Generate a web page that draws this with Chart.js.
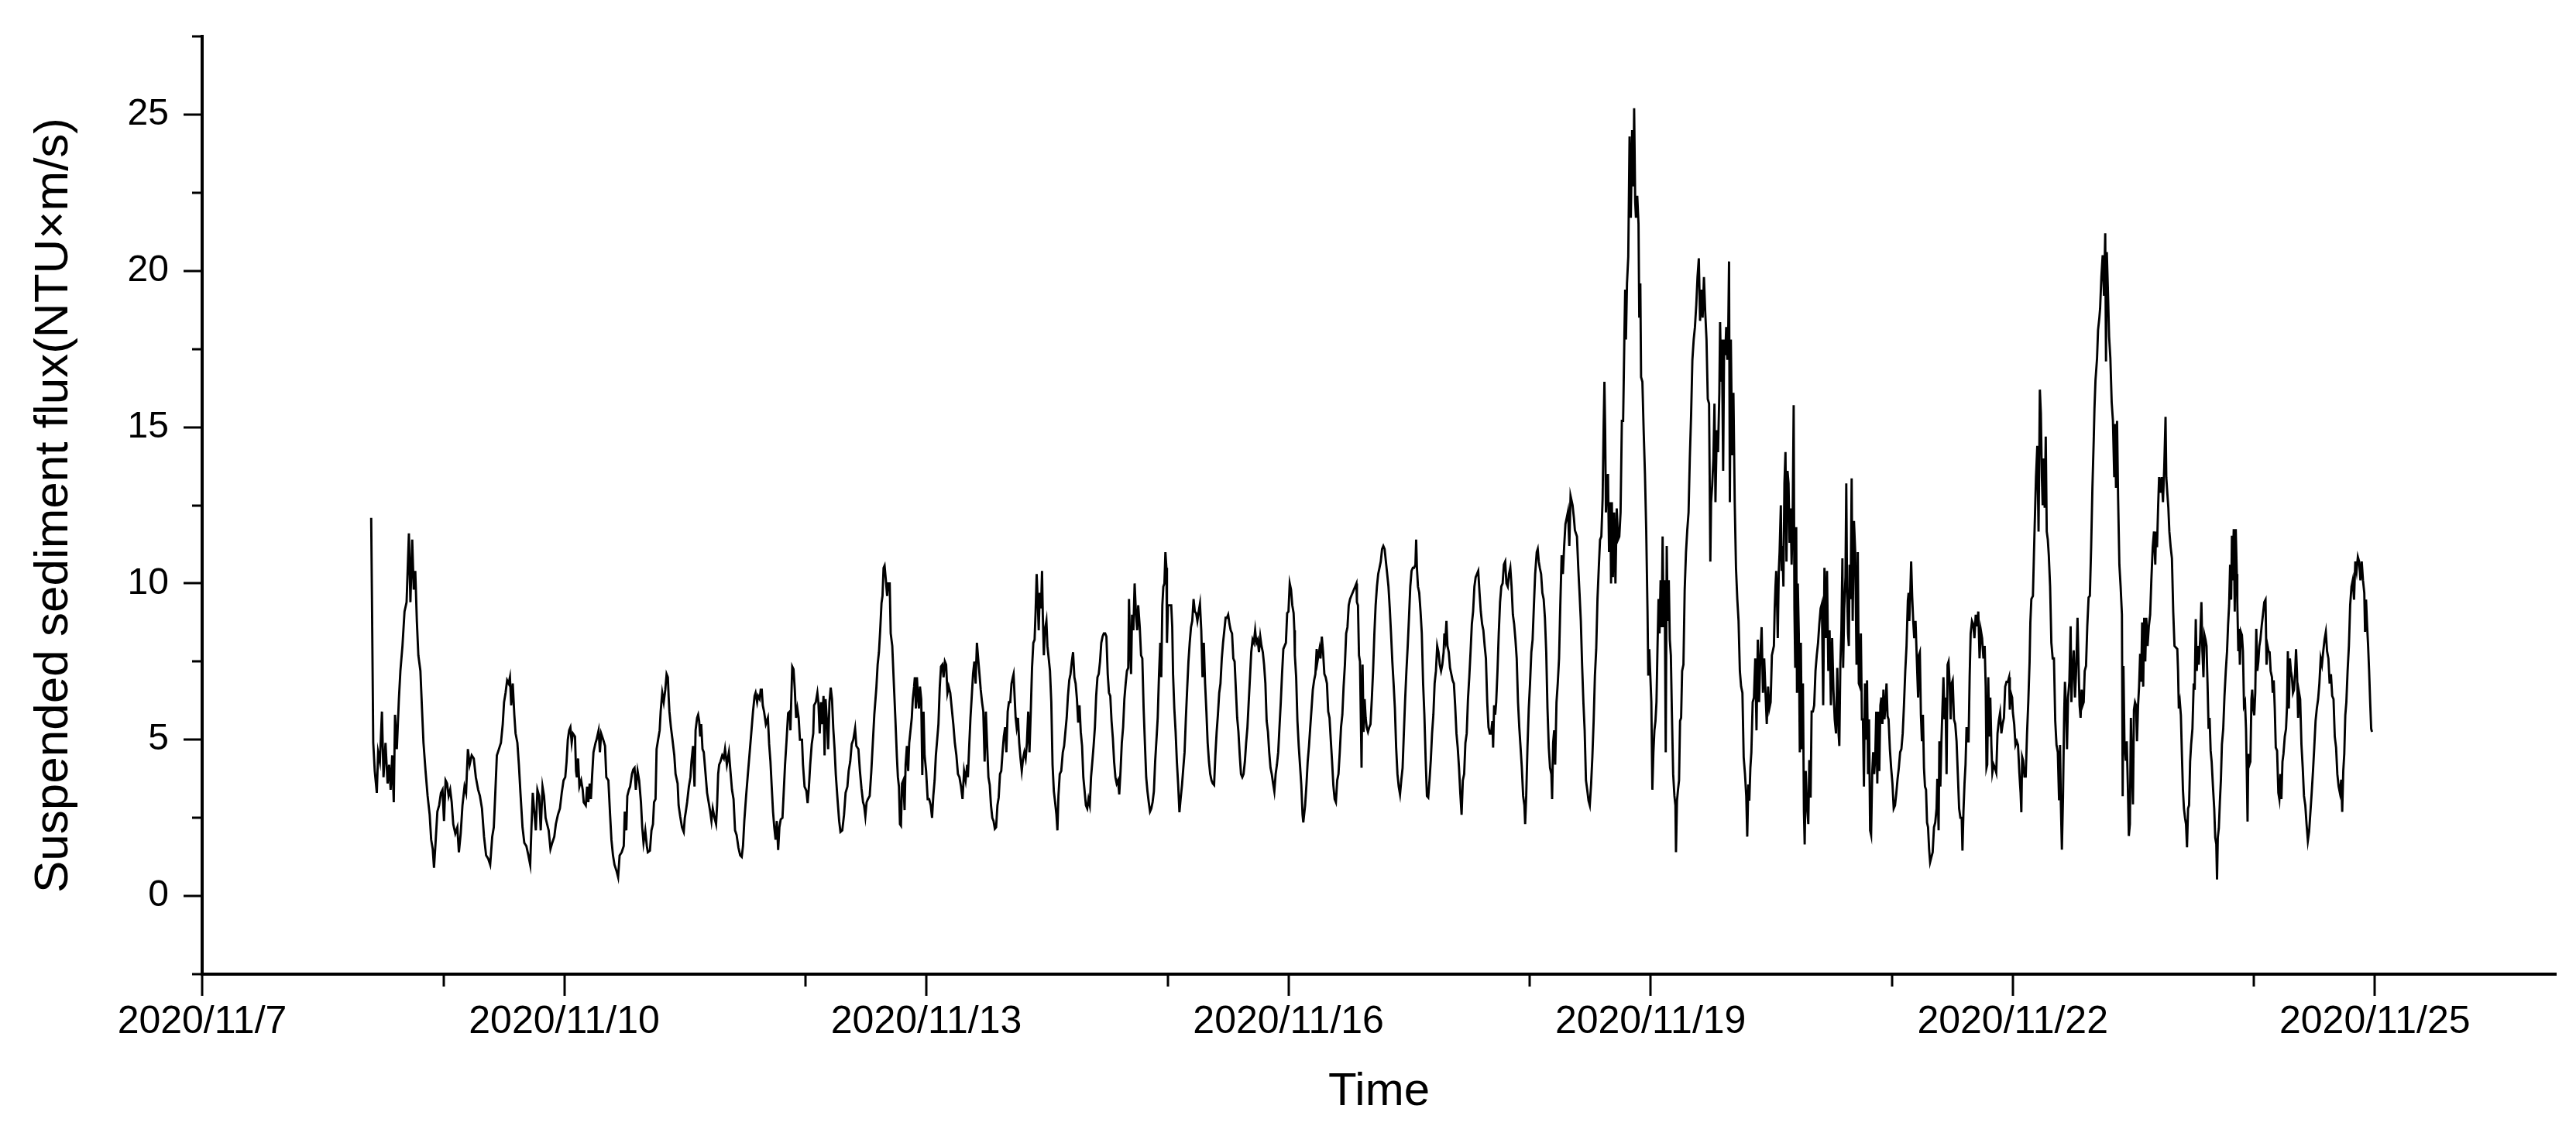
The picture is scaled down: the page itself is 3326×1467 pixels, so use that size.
<!DOCTYPE html>
<html>
<head>
<meta charset="utf-8">
<title>Suspended sediment flux</title>
<script src="https://cdn.jsdelivr.net/npm/chart.js@4.4.1/dist/chart.umd.min.js"></script>
<style>
  html, body { margin: 0; padding: 0; background: #fff; }
  #wrap { width: 3326px; height: 1467px; }
</style>
</head>
<body>
<div id="wrap"><canvas id="fluxChart" width="3326" height="1467"></canvas></div>
<script>
// time of each sample, hours after 2020/11/7 00:00
const hours = [
  // 11/8 - 11/10
  33.61, 33.76, 34.02, 34.32, 34.73, 34.99, 35.34, 35.75, 36.06, 36.46, 36.87, 37.18, 37.48, 37.79, 38.10, 38.35, 38.71, 39.12, 39.42, 39.83,
  40.24, 40.65, 41.11, 41.41, 41.77, 42.07, 42.38, 42.69, 42.99, 43.40, 43.71, 44.01, 44.42, 44.83, 45.24, 45.54, 45.85, 46.10, 46.41, 46.77,
  47.12, 47.48, 47.79, 48.09, 48.40, 48.70, 49.01, 49.32, 49.62, 49.93, 50.34, 50.74, 51.05, 51.41, 51.76, 52.17, 52.48, 52.84, 53.19, 53.60,
  54.01, 54.42, 54.88, 55.23, 55.64, 56.05, 56.46, 56.86, 57.27, 57.68, 57.99, 58.29, 58.60, 59.01, 59.41, 59.77, 60.03, 60.33, 60.64, 60.94,
  61.20, 61.45, 61.76, 62.07, 62.32, 62.68, 62.98, 63.29, 63.70, 64.06, 64.46, 64.87, 65.23, 65.48, 65.74, 66.04, 66.35, 66.66, 67.01, 67.32,
  67.68, 67.98, 68.29, 68.59, 68.90, 69.26, 69.61, 70.02, 70.33, 70.74, 71.14, 71.50, 71.86,
  // 11/10 - 11/11
  72.20, 72.46, 72.71, 72.97, 73.22, 73.48, 73.73, 74.14, 74.34, 74.50, 74.75, 75.01, 75.36, 75.67, 75.87, 76.28, 76.54, 76.79, 77.05, 77.30,
  77.56, 77.81, 78.22, 78.42, 78.83, 79.09, 79.34, 79.75, 80.11, 80.36, 80.77, 81.13, 81.38, 81.69, 81.99, 82.40, 82.71, 83.01, 83.42, 83.83,
  84.03, 84.34, 84.54, 84.85, 85.10, 85.46, 85.72, 85.97, 86.23, 86.58, 86.89, 87.25, 87.50, 87.76, 88.11, 88.42, 88.62, 89.03, 89.34, 89.64,
  89.85, 90.15, 90.36, 90.66, 90.97, 91.17, 91.48, 91.78, 92.09, 92.35, 92.60, 92.75, 92.91, 93.21, 93.52, 93.88, 94.13, 94.54, 94.74, 95.05,
  95.41, 95.76, 95.97, 96.17, 96.43, 96.78, 97.09, 97.29, 97.60, 97.90, 98.11, 98.41, 98.62, 98.82, 99.03, 99.23, 99.49, 99.74, 100.15, 100.40,
  100.66, 101.02, 101.27, 101.53, 101.88, 102.19, 102.39, 102.60, 102.80, 103.06, 103.41, 103.72, 103.97, 104.33, 104.74, 105.04, 105.35, 105.66, 105.96, 106.27,
  106.63, 106.98, 107.29, 107.54, 107.80, 108.16, 108.51, 108.82, 109.18, 109.53, 109.84, 110.04, 110.35, 110.55, 110.86, 111.06, 111.27, 111.47, 111.73, 112.08,
  // 11/11 - 11/13
  112.49, 112.74, 113.00, 113.25, 113.51, 113.76, 114.02, 114.27, 114.53, 114.78, 115.04, 115.39, 115.60, 115.90, 116.21, 116.51, 116.82, 116.97, 117.18, 117.33,
  117.59, 117.84, 118.10, 118.35, 118.61, 118.86, 119.27, 119.47, 119.78, 120.14, 120.39, 120.65, 120.90, 121.21, 121.51, 121.67, 122.02, 122.33, 122.53, 122.79,
  123.04, 123.25, 123.55, 123.76, 123.96, 124.27, 124.47, 124.73, 124.98, 125.24, 125.49, 125.75, 126.00, 126.36, 126.66, 126.92, 127.28, 127.63, 127.94, 128.30,
  128.55, 128.86, 129.16, 129.47, 129.83, 130.08, 130.49, 130.79, 131.10, 131.41, 131.61, 131.87, 132.12, 132.38, 132.73, 133.04, 133.34, 133.65, 134.06, 134.31,
  134.57, 134.82, 135.08, 135.28, 135.49, 135.69, 135.95, 136.20, 136.40, 136.71, 136.91, 137.22, 137.48, 137.83, 138.14, 138.34, 138.55, 138.75, 138.95, 139.16,
  139.41, 139.67, 139.87, 140.13, 140.38, 140.59, 140.89, 141.10, 141.30, 141.56, 141.71, 141.91, 142.12, 142.32, 142.52, 142.73, 142.98, 143.19, 143.44, 143.65,
  143.95, 144.26, 144.56, 144.87, 145.13, 145.38, 145.64, 145.89, 146.15, 146.40, 146.66, 146.91, 147.17, 147.42, 147.68, 147.93, 148.19, 148.44, 148.75, 149.05,
  149.36, 149.66, 149.97, 150.28, 150.58, 150.89, 151.19, 151.50, 151.81, 152.11,
  // 11/13 - 11/15
  152.26, 152.52, 152.77, 153.03, 153.28, 153.54, 153.79, 154.05, 154.30, 154.56, 154.81, 155.07, 155.32, 155.58, 155.83, 156.09, 156.34, 156.60, 156.85, 157.11,
  157.36, 157.62, 157.87, 158.13, 158.38, 158.64, 158.89, 159.15, 159.40, 159.66, 159.91, 160.17, 160.42, 160.68, 160.93, 161.19, 161.34, 161.54, 161.75, 161.95,
  162.21, 162.46, 162.72, 162.97, 163.23, 163.48, 163.74, 163.99, 164.25, 164.50, 164.76, 165.01, 165.27, 165.52, 165.72, 165.93, 166.13, 166.34, 166.54, 166.80,
  167.00, 167.15, 167.36, 167.56, 167.87, 168.07, 168.33, 168.58, 168.84, 169.09, 169.35, 169.60, 169.86, 170.06, 170.26, 170.52, 170.82, 171.13, 171.39, 171.64,
  171.90, 172.15, 172.41, 172.66, 172.92, 173.17, 173.43, 173.68, 173.94, 174.19, 174.45, 174.70, 174.96, 175.21, 175.47, 175.72, 175.98, 176.23, 176.49, 176.74,
  177.00, 177.25, 177.51, 177.76, 178.02, 178.27, 178.53, 178.78, 179.04, 179.29, 179.55, 179.80, 180.06, 180.31, 180.57, 180.82, 181.08, 181.33, 181.59, 181.84,
  182.10, 182.35, 182.61, 182.86, 183.12, 183.37, 183.63, 183.88, 184.14, 184.29, 184.49, 184.70, 184.90, 185.16, 185.41, 185.67, 185.92, 186.12, 186.43, 186.69,
  186.94, 187.20, 187.45, 187.71, 187.96, 188.22, 188.47, 188.73, 188.98, 189.24, 189.49, 189.75, 190.00, 190.26, 190.51, 190.71, 190.92, 191.12, 191.33, 191.53,
  191.73, 191.84, 192.04,
  // 11/15 - 11/16
  192.43, 192.69, 192.89, 193.05, 193.30, 193.56, 193.81, 194.07, 194.32, 194.58, 194.83, 195.09, 195.34, 195.60, 195.85, 196.11, 196.36, 196.62, 196.87, 197.13,
  197.38, 197.64, 197.89, 198.15, 198.40, 198.66, 198.91, 199.17, 199.42, 199.68, 199.93, 200.19, 200.44, 200.70, 200.95, 201.21, 201.46, 201.72, 201.97, 202.23,
  202.48, 202.74, 202.99, 203.25, 203.50, 203.76, 204.01, 204.27, 204.52, 204.78, 205.03, 205.29, 205.54, 205.80, 206.05, 206.31, 206.56, 206.82, 207.07, 207.33,
  207.58, 207.84, 208.09, 208.35, 208.60, 208.86, 209.11, 209.37, 209.62, 209.88, 210.13, 210.39, 210.64, 210.90, 211.15, 211.41, 211.66, 211.92, 212.17, 212.43,
  212.68, 212.94, 213.19, 213.45, 213.70, 213.96, 214.21, 214.47, 214.72, 214.98, 215.23, 215.49, 215.74, 216.00, 216.25, 216.51, 216.76, 217.02, 217.17, 217.27,
  217.53, 217.78, 218.04, 218.29, 218.55, 218.80, 218.95, 219.11, 219.31, 219.57, 219.82, 220.08, 220.33, 220.59, 220.84, 221.10, 221.35, 221.61, 221.76, 221.96,
  222.17, 222.37, 222.63, 222.88, 223.14, 223.39, 223.65, 223.90, 224.16, 224.41, 224.67, 224.92, 225.18, 225.43, 225.69, 225.94, 226.20, 226.45, 226.71, 226.96,
  227.22, 227.47, 227.73, 227.98, 228.24, 228.49, 228.75, 229.00, 229.26, 229.51, 229.61, 229.82, 230.02, 230.22, 230.43, 230.53, 230.73, 230.94, 231.14, 231.35,
  231.55, 231.81, 232.06,
  // 11/16 - 11/18
  232.31, 232.57, 232.82, 233.08, 233.33, 233.59, 233.84, 234.10, 234.35, 234.61, 234.86, 235.12, 235.37, 235.63, 235.88, 236.14, 236.39, 236.65, 236.90, 237.16,
  237.41, 237.67, 237.92, 238.18, 238.43, 238.69, 238.94, 239.20, 239.45, 239.71, 239.96, 240.22, 240.47, 240.73, 240.98, 241.24, 241.39, 241.54, 241.75, 242.00,
  242.26, 242.51, 242.77, 243.02, 243.28, 243.53, 243.79, 244.04, 244.30, 244.55, 244.81, 245.06, 245.32, 245.57, 245.83, 246.08, 246.34, 246.59, 246.85, 247.00,
  247.20, 247.41, 247.61, 247.87, 248.12, 248.38, 248.63, 248.89, 249.14, 249.40, 249.65, 249.91, 250.16, 250.42, 250.67, 250.93, 251.18, 251.44, 251.69, 251.95,
  252.20, 252.46, 252.71, 252.97, 253.22, 253.48, 253.73, 253.99, 254.24, 254.50, 254.75, 255.01, 255.26, 255.52, 255.77, 256.03, 256.28, 256.54, 256.69, 256.89,
  257.10, 257.30, 257.56, 257.81, 258.07, 258.32, 258.58, 258.83, 259.09, 259.34, 259.60, 259.85, 260.11, 260.36, 260.62, 260.87, 261.13, 261.38, 261.64, 261.89,
  262.15, 262.40, 262.66, 262.91, 263.06, 263.27, 263.52, 263.78, 264.03, 264.29, 264.54, 264.80, 265.05, 265.36, 265.56, 265.77, 265.97, 266.23, 266.48, 266.74,
  266.99, 267.25, 267.50, 267.76, 268.01, 268.27, 268.42, 268.62, 268.83, 269.03, 269.29, 269.54, 269.80, 270.05, 270.31, 270.56, 270.82, 271.07, 271.33, 271.58,
  271.84, 272.09,
  // 11/18 - 11/20
  272.49, 272.75, 272.95, 273.36, 273.62, 273.87, 274.13, 274.38, 274.64, 274.89, 275.15, 275.40, 275.66, 275.91, 276.17, 276.42, 276.68, 276.93, 277.19, 277.44,
  277.70, 277.95, 278.21, 278.46, 278.66, 278.82, 278.97, 279.12, 279.33, 279.53, 279.74, 279.99, 280.14, 280.30, 280.50, 280.76, 281.01, 281.27, 281.52, 281.78,
  282.03, 282.29, 282.54, 282.80, 282.95, 283.10, 283.31, 283.56, 283.82, 284.07, 284.33, 284.58, 284.73, 284.94, 285.09, 285.35, 285.60, 285.75, 285.96, 286.11,
  286.37, 286.62, 286.88, 287.13, 287.39, 287.54, 287.74, 287.95, 288.15, 288.35, 288.56, 288.76, 288.97, 289.17, 289.37, 289.58, 289.78, 289.99, 290.19, 290.39,
  290.60, 290.80, 291.01, 291.21, 291.41, 291.62, 291.82, 292.03, 292.23, 292.49, 292.74, 292.94, 293.05, 293.25, 293.45, 293.66, 293.86, 294.07, 294.27, 294.53,
  294.78, 295.04, 295.29, 295.55, 295.80, 296.06, 296.31, 296.57, 296.82, 297.08, 297.33, 297.59, 297.84, 298.10, 298.35, 298.61, 298.86, 299.12, 299.37, 299.63,
  299.88, 300.03, 300.24, 300.49, 300.70, 300.90, 301.16, 301.41, 301.67, 301.82, 302.02, 302.18, 302.43, 302.63, 302.84, 303.04, 303.25, 303.45, 303.60, 303.76,
  303.96, 304.22, 304.47, 304.73, 304.98, 305.24, 305.49, 305.75, 306.00, 306.26, 306.51, 306.77, 307.02, 307.22, 307.43, 307.63, 307.84, 308.04, 308.30, 308.55,
  308.81, 309.06, 309.32, 309.57, 309.83, 310.08, 310.34, 310.59, 310.85, 311.10, 311.36, 311.61, 311.87, 312.12,
  // 11/20 - 11/21
  312.52, 312.68, 312.83, 312.98, 313.14, 313.29, 313.49, 313.65, 313.90, 314.05, 314.21, 314.41, 314.61, 314.82, 315.02, 315.23, 315.43, 315.63, 315.84, 316.04,
  316.25, 316.45, 316.60, 316.76, 316.96, 317.11, 317.27, 317.47, 317.67, 317.88, 318.08, 318.29, 318.49, 318.64, 318.85, 319.10, 319.36, 319.56, 319.82, 320.02,
  320.28, 320.53, 320.79, 321.04, 321.30, 321.55, 321.81, 322.06, 322.32, 322.57, 322.83, 323.08, 323.34, 323.59, 323.85, 324.10, 324.36, 324.61, 324.87, 325.12,
  325.38, 325.53, 325.73, 325.94, 326.14, 326.29, 326.50, 326.75, 326.91, 327.06, 327.26, 327.42, 327.57, 327.77, 327.98, 328.18, 328.44, 328.69, 328.95, 329.20,
  329.40, 329.61, 329.81, 330.02, 330.22, 330.42, 330.63, 330.83, 331.04, 331.24, 331.44, 331.65, 331.85, 332.06, 332.26, 332.46, 332.67, 332.87, 333.08, 333.28,
  333.48, 333.69, 333.89, 334.10, 334.30, 334.50, 334.71, 334.91, 335.12, 335.32, 335.58, 335.83, 336.09, 336.34, 336.60, 336.85, 337.11, 337.36, 337.62, 337.87,
  338.13, 338.38, 338.64, 338.89, 339.15, 339.30, 339.45, 339.66, 339.81, 340.01, 340.22, 340.42, 340.68, 340.93, 341.19, 341.34, 341.54, 341.75, 341.95, 342.15,
  342.36, 342.56, 342.77, 342.97, 343.17, 343.38, 343.58, 343.84, 344.09, 344.35, 344.60, 344.86, 345.01, 345.27, 345.42, 345.62, 345.83, 346.03, 346.23, 346.44,
  346.64, 346.85, 347.05, 347.25, 347.46, 347.66, 347.87, 348.07, 348.33, 348.58, 348.84, 349.09, 349.35, 349.60, 349.86, 350.01, 350.21, 350.42, 350.62, 350.82,
  351.03, 351.23, 351.44, 351.64, 351.90, 352.15,
  // 11/21 - 11/23
  352.39, 352.65, 352.90, 353.16, 353.41, 353.67, 353.92, 354.18, 354.43, 354.63, 354.79, 354.94, 355.14, 355.35, 355.55, 355.76, 355.96, 356.22, 356.47, 356.73,
  356.98, 357.24, 357.49, 357.75, 358.00, 358.26, 358.51, 358.77, 359.02, 359.28, 359.43, 359.63, 359.89, 360.04, 360.30, 360.55, 360.81, 361.06, 361.32, 361.57,
  361.72, 361.88, 362.08, 362.34, 362.59, 362.85, 363.10, 363.36, 363.51, 363.71, 364.02, 364.22, 364.38, 364.63, 364.89, 365.14, 365.40, 365.60, 365.80, 365.96,
  366.16, 366.36, 366.57, 366.77, 366.98, 367.18, 367.44, 367.69, 367.95, 368.20, 368.46, 368.71, 368.97, 369.22, 369.42, 369.58, 369.78, 369.99, 370.24, 370.39,
  370.60, 370.80, 371.01, 371.26, 371.52, 371.67, 371.87, 372.13, 372.38, 372.59, 372.89, 373.10, 373.30, 373.50, 373.71, 373.91, 374.12, 374.32, 374.58, 374.83,
  375.09, 375.34, 375.60, 375.85, 376.11, 376.26, 376.46, 376.77, 376.97, 377.23, 377.38, 377.63, 377.89, 378.15, 378.40, 378.55, 378.71, 378.91, 379.17, 379.42,
  379.68, 379.93, 380.19, 380.34, 380.54, 380.75, 380.95, 381.21, 381.46, 381.72, 381.87, 382.02, 382.23, 382.48, 382.68, 382.89, 383.09, 383.30, 383.50, 383.70,
  383.91, 384.11, 384.32, 384.52, 384.72, 384.93, 385.13, 385.34, 385.54, 385.74, 385.95, 386.15, 386.36, 386.56, 386.82, 387.07, 387.33, 387.58, 387.84, 388.09,
  388.35, 388.50, 388.70, 388.91, 389.11, 389.37, 389.62, 389.88, 390.13, 390.39, 390.54, 390.74, 390.95, 391.15, 391.41, 391.66, 391.92, 392.17,
  // 11/23 - 11/25
  392.73, 392.88, 393.03, 393.24, 393.44, 393.64, 393.85, 394.05, 394.26, 394.46, 394.66, 394.87, 395.07, 395.28, 395.48, 395.74, 395.99, 396.19, 396.40, 396.60,
  396.81, 397.01, 397.27, 397.52, 397.72, 397.93, 398.13, 398.34, 398.54, 398.74, 398.95, 399.15, 399.36, 399.56, 399.82, 400.07, 400.27, 400.48, 400.63, 400.78,
  400.99, 401.19, 401.40, 401.60, 401.86, 402.11, 402.37, 402.62, 402.82, 403.03, 403.23, 403.44, 403.59, 403.74, 403.95, 404.15, 404.35, 404.56, 404.66, 404.86,
  405.02, 405.17, 405.37, 405.58, 405.78, 405.99, 406.19, 406.39, 406.55, 406.70, 406.85, 407.06, 407.26, 407.47, 407.62, 407.82, 408.03, 408.23, 408.43, 408.64,
  408.84, 409.05, 409.25, 409.51, 409.76, 410.02, 410.27, 410.47, 410.68, 410.88, 411.09, 411.29, 411.55, 411.70, 411.90, 412.11, 412.31, 412.57, 412.82, 413.02,
  413.23, 413.43, 413.64, 413.84, 414.10, 414.35, 414.55, 414.71, 414.91, 415.12, 415.32, 415.52, 415.73, 415.93, 416.14, 416.34, 416.54, 416.75, 416.95, 417.16,
  417.41, 417.67, 417.92, 418.18, 418.43, 418.69, 418.94, 419.20, 419.45, 419.71, 419.96, 420.22, 420.47, 420.73, 420.98, 421.24, 421.49, 421.75, 422.00, 422.26,
  422.51, 422.77, 423.02, 423.28, 423.53, 423.79, 424.04, 424.30, 424.55, 424.81, 425.06, 425.32, 425.52, 425.73, 425.93, 426.13, 426.34, 426.59, 426.85, 427.10,
  427.36, 427.61, 427.87, 428.12, 428.38, 428.63, 428.89, 429.14, 429.40, 429.65, 429.91, 430.06, 430.26, 430.47, 430.67, 430.87, 431.08, 431.28, 431.44
];

// suspended sediment flux, NTU x m/s
const flux = [
  // 11/8 - 11/10
  12.1, 9.6, 4.9, 4.0, 3.3, 4.6, 4.3, 5.9, 3.8, 4.9, 3.6, 4.2, 3.4, 4.5, 3.0, 5.8, 4.7, 6.3, 7.2, 8.0,
  9.1, 9.4, 11.6, 9.4, 11.4, 9.8, 10.4, 8.8, 7.7, 7.2, 6.0, 4.9, 4.0, 3.2, 2.6, 1.8, 1.5, 0.9, 1.7, 2.7,
  2.9, 3.3, 3.4, 2.4, 3.7, 3.6, 3.2, 3.4, 3.0, 2.3, 2.0, 2.2, 1.4, 2.0, 2.9, 3.5, 3.3, 4.7, 4.2, 4.5,
  4.4, 3.8, 3.4, 3.2, 2.8, 1.9, 1.3, 1.2, 1.0, 1.9, 2.2, 3.3, 4.5, 4.7, 4.9, 5.5, 6.2, 6.5, 6.9, 6.8,
  7.0, 6.1, 6.8, 5.8, 5.2, 4.9, 4.2, 3.3, 2.2, 1.7, 1.6, 1.3, 1.0, 2.2, 3.3, 2.7, 2.1, 3.4, 3.2, 2.1,
  3.5, 3.2, 2.5, 2.3, 2.1, 1.5, 1.7, 1.9, 2.3, 2.6, 2.8, 3.3, 3.7,
  // 11/10 - 11/11
  3.8, 4.3, 5.0, 5.3, 5.4, 4.9, 5.2, 5.1, 4.0, 3.8, 4.4, 3.5, 3.7, 3.4, 3.0, 2.9, 3.5, 3.0, 3.6, 3.1,
  3.9, 4.6, 4.9, 5.0, 5.3, 4.6, 5.2, 5.0, 4.8, 3.8, 3.7, 2.55, 1.8, 1.3, 1.0, 0.8, 0.6, 1.3, 1.4, 1.6,
  2.7, 2.1, 3.2, 3.4, 3.5, 3.9, 4.05, 4.1, 3.4, 4.0, 3.7, 3.0, 2.2, 1.7, 2.1, 1.6, 1.4, 1.45, 2.1, 2.3,
  3.0, 3.1, 4.7, 5.0, 5.3, 5.9, 6.5, 6.2, 6.6, 7.1, 7.0, 6.4, 5.9, 5.4, 5.0, 4.5, 3.9, 3.6, 2.9, 2.55,
  2.2, 2.05, 2.5, 2.7, 3.0, 3.5, 3.8, 4.3, 4.8, 3.5, 5.3, 5.7, 5.8, 5.6, 5.1, 5.5, 4.7, 4.6, 3.8, 3.3,
  3.05, 2.7, 2.4, 2.8, 2.5, 2.3, 2.9, 3.9, 4.2, 4.3, 4.5, 4.4, 4.7, 4.2, 4.6, 4.0, 3.4, 3.1, 2.1, 1.95,
  1.55, 1.3, 1.25, 1.6, 2.4, 3.2, 3.9, 4.5, 5.2, 5.9, 6.4, 6.5, 6.2, 6.4, 6.3, 6.6, 6.6, 6.1, 5.9, 5.5,
  // 11/11 - 11/13
  5.7, 4.86, 4.3, 3.5, 2.7, 2.2, 1.8, 2.4, 1.47, 2.2, 2.45, 2.5, 3.2, 4.2, 5.0, 5.85, 5.9, 5.3, 6.5, 7.34,
  7.25, 6.6, 5.7, 6.0, 5.7, 5.0, 5.0, 4.2, 3.5, 3.37, 2.97, 3.5, 4.2, 4.86, 5.2, 6.1, 6.2, 6.5, 6.2, 5.2,
  6.2, 5.5, 6.4, 4.5, 6.3, 5.5, 4.7, 6.2, 6.67, 6.3, 5.36, 4.7, 3.87, 3.04, 2.4, 2.05, 2.1, 2.6, 3.3, 3.5,
  4.0, 4.3, 4.86, 5.0, 5.36, 4.8, 4.7, 4.0, 3.44, 3.0, 2.9, 2.55, 3.0, 3.1, 3.2, 3.95, 4.86, 5.8, 6.67, 7.4,
  7.8, 8.5, 9.37, 9.6, 10.5, 10.57, 10.1, 9.6, 10.0, 10.0, 8.4, 8.0, 7.0, 5.7, 4.45, 3.8, 3.5, 2.3, 2.25, 3.6,
  3.7, 2.75, 4.2, 4.8, 4.0, 4.9, 5.36, 5.7, 6.3, 6.7, 7.0, 6.0, 7.0, 6.4, 6.0, 6.7, 6.3, 3.87, 5.9, 4.5,
  4.0, 3.1, 3.1, 2.9, 2.5, 3.2, 3.7, 4.5, 5.0, 5.5, 6.67, 7.34, 7.4, 7.0, 7.5, 7.4, 6.5, 6.7, 6.5, 6.0,
  5.5, 4.9, 4.5, 3.9, 3.8, 3.5, 3.1, 4.0, 3.7, 4.2,
  // 11/13 - 11/15
  3.8, 4.8, 5.7, 6.4, 7.1, 7.5, 6.8, 8.1, 7.6, 7.1, 6.6, 6.2, 5.9, 4.3, 5.9, 4.8, 3.8, 3.55, 2.9, 2.5,
  2.4, 2.15, 2.2, 2.9, 3.15, 3.9, 4.0, 4.6, 5.1, 5.4, 4.6, 5.9, 6.2, 6.2, 6.8, 7.0, 7.1, 6.4, 5.7, 5.4,
  5.7, 4.9, 4.4, 4.0, 4.4, 4.6, 4.4, 4.9, 5.9, 4.6, 5.9, 7.3, 8.1, 8.2, 9.1, 10.3, 9.5, 8.5, 9.7, 9.2,
  10.4, 9.0, 7.7, 8.5, 8.8, 8.0, 7.6, 7.2, 6.2, 4.2, 3.35, 3.0, 2.6, 2.1, 3.2, 3.9, 4.0, 4.6, 4.8, 5.25,
  5.7, 6.4, 6.9, 7.1, 7.5, 7.8, 7.0, 6.8, 6.3, 5.55, 6.1, 5.25, 4.8, 3.8, 3.35, 2.9, 2.8, 3.1, 2.9, 3.8,
  4.3, 4.8, 5.4, 6.4, 7.0, 7.1, 7.5, 8.1, 8.3, 8.4, 8.4, 8.3, 7.1, 6.5, 6.4, 5.6, 5.05, 4.3, 3.8, 3.6,
  3.7, 3.25, 4.0, 4.9, 5.4, 6.3, 6.8, 7.2, 7.3, 9.5, 8.1, 7.1, 9.0, 8.5, 10.0, 9.05, 8.5, 9.3, 8.6, 7.7,
  7.6, 6.0, 4.9, 3.8, 3.35, 3.0, 2.7, 2.8, 3.0, 3.35, 4.3, 5.0, 5.7, 7.1, 8.1, 7.0, 9.3, 9.9, 10.0, 11.0,
  10.5, 8.1, 9.3,
  // 11/15 - 11/16
  9.3, 9.3, 8.6, 7.1, 6.0, 5.25, 4.3, 3.55, 2.68, 3.15, 3.55, 4.1, 4.6, 5.7, 6.6, 7.5, 8.1, 8.6, 8.8, 9.5,
  9.1, 9.05, 8.8, 9.1, 9.35, 8.5, 7.0, 8.1, 6.8, 5.9, 4.9, 4.3, 3.9, 3.7, 3.6, 3.55, 4.5, 5.25, 5.8, 6.5,
  6.8, 7.6, 8.1, 8.5, 8.9, 8.9, 9.0, 8.7, 8.5, 8.4, 7.6, 7.5, 6.6, 5.7, 5.25, 4.5, 3.9, 3.8, 3.9, 4.3,
  4.9, 5.4, 6.2, 7.0, 7.8, 8.2, 8.1, 8.5, 8.1, 8.2, 7.8, 8.3, 8.0, 7.8, 7.4, 6.8, 5.6, 5.25, 4.6, 4.1,
  3.9, 3.6, 3.35, 3.9, 4.2, 4.6, 5.4, 6.2, 7.1, 7.9, 8.0, 8.1, 9.05, 9.1, 10.0, 9.8, 9.3, 9.05, 8.5, 7.7,
  7.0, 5.6, 4.8, 4.2, 3.55, 2.6, 2.35, 2.6, 2.9, 3.55, 4.3, 4.8, 5.4, 6.0, 6.6, 6.9, 7.1, 7.9, 7.5, 7.7,
  7.9, 7.6, 8.3, 7.8, 7.1, 7.0, 6.8, 5.9, 5.7, 5.0, 4.3, 3.55, 3.1, 3.0, 3.7, 3.9, 4.6, 5.4, 5.8, 6.7,
  7.4, 8.4, 8.6, 9.3, 9.5, 9.6, 9.7, 9.8, 9.9, 10.0, 9.4, 9.3, 7.7, 7.5, 5.25, 4.1, 7.4, 5.25, 6.3, 5.7,
  5.4, 5.25, 5.4,
  // 11/16 - 11/18
  5.5, 6.3, 7.2, 8.4, 9.3, 9.9, 10.3, 10.5, 10.7, 11.1, 11.2, 11.1, 10.7, 10.3, 9.9, 9.2, 8.4, 7.5, 6.8, 6.0,
  4.75, 3.9, 3.5, 3.25, 3.7, 4.1, 5.2, 6.3, 7.2, 8.0, 8.9, 9.9, 10.4, 10.5, 10.5, 10.6, 11.4, 10.5, 9.9, 9.7,
  9.1, 8.4, 6.8, 5.8, 4.35, 3.2, 3.15, 3.7, 4.35, 5.2, 5.8, 6.8, 7.2, 8.0, 7.8, 7.4, 7.2, 7.4, 7.8, 8.4,
  8.2, 8.8, 8.0, 7.8, 7.3, 7.1, 6.9, 6.8, 6.1, 5.2, 4.75, 4.1, 3.3, 2.6, 3.7, 3.9, 4.9, 5.2, 6.3, 7.0,
  7.8, 8.7, 9.1, 9.9, 10.2, 10.3, 10.4, 9.7, 9.1, 8.7, 8.5, 8.0, 7.6, 6.2, 5.4, 5.2, 5.2, 5.6, 4.75, 6.1,
  5.8, 6.2, 7.2, 8.4, 9.4, 9.9, 10.0, 10.6, 10.7, 10.0, 9.9, 10.3, 10.5, 9.9, 9.0, 8.7, 8.2, 7.6, 6.2, 5.4,
  4.75, 4.1, 3.2, 2.9, 2.3, 3.2, 4.75, 6.0, 6.8, 7.8, 8.2, 9.3, 10.3, 11.0, 11.1, 10.7, 10.5, 10.3, 9.7, 9.5,
  8.9, 7.8, 6.0, 4.75, 4.1, 3.9, 3.1, 4.9, 5.3, 4.2, 6.2, 6.8, 7.6, 9.3, 10.9, 10.3, 11.2, 11.9, 12.1, 12.3,
  11.2, 12.8,
  // 11/18 - 11/20
  12.5, 12.1, 11.7, 11.5, 10.5, 9.7, 8.8, 7.4, 6.2, 5.3, 3.7, 3.4, 3.05, 2.9, 3.57, 4.44, 5.6, 7.05, 7.9, 9.5,
  10.5, 11.4, 11.5, 12.7, 15.0, 16.45, 14.9, 12.27, 13.3, 13.5, 11.0, 12.6, 10.0, 12.6, 10.2, 12.27, 10.0, 12.4, 11.4, 11.5,
  12.27, 15.2, 15.2, 18.0, 19.4, 17.8, 19.6, 20.45, 24.3, 21.7, 24.5, 22.7, 25.2, 22.2, 21.7, 22.4, 21.5, 18.5, 19.6, 16.6,
  16.45, 14.9, 13.5, 11.7, 9.1, 7.05, 7.9, 7.05, 6.2, 3.4, 4.6, 5.3, 5.6, 6.2, 7.9, 9.5, 8.4, 10.1, 8.6, 11.5,
  8.6, 10.1, 4.6, 11.2, 8.8, 10.1, 8.2, 7.7, 5.9, 3.9, 3.2, 2.9, 1.4, 3.05, 3.4, 3.7, 5.6, 5.7, 7.2, 7.4,
  9.8, 11.0, 11.7, 12.27, 14.0, 15.4, 17.15, 17.8, 18.2, 18.9, 19.8, 20.4, 18.4, 19.4, 18.5, 19.8, 18.7, 17.8, 15.9, 15.75,
  10.7, 12.6, 13.1, 14.0, 15.75, 12.6, 14.9, 14.2, 16.1, 18.36, 16.45, 17.8, 13.6, 17.8, 17.3, 18.2, 17.15, 18.2, 20.3, 12.6,
  17.8, 14.1, 16.1, 12.6, 10.5, 9.5, 8.8, 7.2, 6.7, 6.5, 4.44, 3.9, 3.2, 1.9, 3.57, 3.05, 4.1, 4.6, 6.2, 6.35,
  7.6, 5.3, 8.2, 6.2, 7.7, 8.6, 6.5, 7.6, 6.5, 5.5, 6.7, 6.0, 6.2, 7.7,
  // 11/20 - 11/21
  8.0, 9.2, 9.9, 10.4, 9.4, 8.25, 10.4, 11.0, 12.5, 10.4, 11.2, 9.9, 13.2, 14.2, 10.7, 13.6, 13.2, 11.3, 12.4, 10.6,
  12.1, 15.7, 9.2, 7.3, 11.8, 6.5, 10.0, 8.4, 4.6, 8.1, 4.7, 6.8, 2.7, 1.65, 4.0, 2.9, 2.3, 4.35, 3.15, 5.9,
  5.9, 6.1, 7.2, 7.7, 8.1, 8.7, 9.2, 9.35, 6.1, 10.5, 8.25, 10.4, 7.2, 8.5, 6.1, 8.25, 6.6, 5.65, 5.2, 7.3,
  5.2, 4.8, 7.4, 8.5, 10.8, 7.3, 9.2, 10.2, 13.2, 9.9, 8.4, 8.0, 10.6, 9.5, 13.36, 8.8, 12.0, 11.0, 7.4, 11.0,
  6.8, 6.7, 8.4, 5.65, 5.65, 3.5, 6.8, 5.0, 6.9, 3.9, 5.65, 2.1, 1.95, 3.9, 4.6, 3.9, 4.45, 5.9, 3.6, 5.9,
  4.0, 6.1, 6.35, 5.5, 6.6, 5.65, 6.1, 6.8, 5.75, 5.65, 4.7, 4.1, 3.6, 2.8, 2.9, 3.27, 3.75, 4.1, 4.6, 4.7,
  5.2, 6.1, 7.2, 8.0, 9.45, 9.7, 8.8, 9.8, 10.7, 9.6, 8.8, 8.25, 8.8, 7.6, 6.35, 7.7, 7.8, 5.8, 4.95, 5.8,
  4.1, 3.5, 3.4, 2.35, 2.2, 1.5, 1.08, 1.25, 1.4, 2.2, 2.35, 2.8, 3.75, 2.1, 4.95, 3.5, 4.95, 6.0, 7.0, 5.65,
  6.35, 3.9, 7.4, 7.5, 6.8, 5.65, 6.8, 6.9, 5.65, 5.5, 4.95, 3.9, 2.8, 2.5, 2.5, 1.45, 2.7, 3.6, 4.2, 5.4,
  4.95, 4.95, 7.0, 8.4, 8.8, 8.7,
  // 11/21 - 11/23
  8.25, 9.0, 8.63, 9.1, 7.6, 8.5, 8.25, 7.6, 8.0, 6.7, 4.1, 4.2, 7.0, 5.1, 6.35, 4.83, 3.95, 4.2, 4.1, 3.95,
  5.2, 5.6, 5.86, 5.2, 5.5, 5.7, 6.7, 6.85, 6.85, 7.0, 5.96, 6.5, 6.35, 5.86, 5.5, 4.83, 4.95, 4.83, 3.95, 3.3,
  2.68, 4.45, 4.33, 3.82, 3.82, 5.2, 6.2, 7.5, 8.75, 9.5, 9.6, 10.9, 11.9, 13.4, 14.4, 11.66, 16.2, 15.45, 13.4, 12.5,
  14.0, 12.42, 14.7, 11.66, 11.4, 10.9, 9.9, 8.1, 7.6, 7.6, 5.6, 4.83, 4.6, 3.06, 4.83, 2.93, 1.48, 3.06, 5.86, 6.85,
  6.1, 4.7, 6.35, 6.85, 8.63, 6.2, 7.1, 7.86, 6.35, 7.1, 8.9, 7.36, 6.1, 5.7, 6.6, 6.1, 6.2, 7.2, 7.36, 8.63,
  9.55, 9.6, 11.16, 13.06, 14.58, 15.6, 16.5, 17.2, 18.1, 18.5, 18.8, 19.8, 20.5, 19.2, 21.2, 17.1, 20.6, 19.5, 17.9, 17.2,
  15.8, 15.2, 13.4, 15.1, 13.06, 15.2, 12.8, 10.6, 9.9, 9.0, 3.19, 7.36, 4.83, 4.33, 4.95, 3.57, 1.92, 2.3, 5.7, 4.2,
  2.93, 5.96, 6.2, 6.1, 4.95, 6.1, 6.7, 7.75, 6.85, 8.75, 6.7, 8.9, 7.5, 8.9, 8.0, 8.63, 9.0, 10.15, 11.16, 11.66,
  10.6, 11.66, 11.16, 12.42, 13.4, 12.9, 13.4, 12.6, 13.7, 15.33, 13.4, 12.9, 12.42, 11.66, 11.16, 10.8, 9.1, 8.0,
  // 11/23 - 11/25
  7.9, 7.2, 6.0, 6.2, 5.78, 4.55, 3.4, 2.8, 2.5, 2.3, 1.56, 2.8, 2.9, 4.3, 4.85, 5.35, 6.8, 6.6, 8.86, 7.2,
  8.0, 7.4, 8.2, 9.4, 7.83, 7.0, 8.35, 8.2, 8.0, 6.8, 5.35, 5.7, 4.65, 4.3, 3.5, 2.8, 1.87, 1.66, 0.53, 1.87,
  2.17, 3.0, 3.72, 4.85, 5.35, 6.4, 7.2, 7.83, 8.65, 9.3, 10.6, 9.48, 11.53, 10.1, 11.74, 9.1, 11.74, 10.3, 9.4, 7.83,
  8.55, 7.4, 8.45, 8.35, 7.83, 6.1, 6.2, 5.35, 3.95, 2.38, 4.55, 4.2, 4.3, 6.3, 6.6, 6.0, 5.78, 6.5, 8.55, 7.2,
  7.5, 8.0, 8.2, 8.65, 9.0, 9.4, 9.48, 7.4, 8.0, 7.83, 7.8, 7.2, 7.0, 6.5, 6.9, 6.0, 4.75, 4.65, 3.3, 3.1,
  3.9, 3.1, 4.3, 4.55, 5.1, 5.35, 6.1, 7.83, 6.0, 7.6, 7.2, 7.0, 6.5, 6.6, 7.1, 7.9, 7.1, 5.7, 6.5, 6.3,
  4.85, 4.1, 3.2, 2.9, 2.3, 1.77, 2.07, 2.69, 3.3, 4.0, 4.75, 5.6, 6.0, 6.3, 6.8, 7.6, 7.4, 7.83, 8.2, 8.45,
  7.83, 7.6, 6.8, 7.1, 6.4, 6.3, 5.1, 4.75, 3.9, 3.5, 3.3, 3.72, 2.69, 4.0, 4.55, 5.78, 6.2, 7.2, 8.0, 9.3,
  9.9, 10.1, 9.48, 10.7, 10.4, 10.85, 10.7, 10.1, 10.7, 10.1, 9.7, 8.45, 9.48, 8.65, 8.0, 7.2, 6.2, 5.35, 5.25
];

// axis ticks, in days after 2020/11/7
const xTickDays = [0, 3, 6, 9, 12, 15, 18];
const xTickLabels = ['2020/11/7', '2020/11/10', '2020/11/13', '2020/11/16', '2020/11/19', '2020/11/22', '2020/11/25'];
const xMinorDays = [2, 5, 8, 11, 14, 17];
const yTicks = [0, 5, 10, 15, 20, 25];
const yMinorTicks = [-2.5, 2.5, 7.5, 12.5, 17.5, 22.5, 27.5];

const FONT = "'Liberation Sans', Arial, sans-serif";

const points = hours.map((h, i) => ({ x: h / 24, y: flux[i] }));

// outward tick marks (major + minor) drawn on the library's scales
const tickMarks = {
    id: 'tickMarks',
    afterDraw(chart) {
        const { ctx } = chart;
        const xs = chart.scales.x;
        const ys = chart.scales.y;
        ctx.save();
        ctx.strokeStyle = '#000';
        ctx.lineWidth = 3;
        ctx.beginPath();
        xTickDays.forEach(d => {
            const px = Math.round(xs.getPixelForValue(d));
            ctx.moveTo(px, xs.top);
            ctx.lineTo(px, xs.top + 28);
        });
        xMinorDays.forEach(d => {
            const px = Math.round(xs.getPixelForValue(d));
            ctx.moveTo(px, xs.top);
            ctx.lineTo(px, xs.top + 16);
        });
        yTicks.forEach(v => {
            const py = Math.round(ys.getPixelForValue(v));
            ctx.moveTo(ys.right, py);
            ctx.lineTo(ys.right - 24, py);
        });
        yMinorTicks.forEach(v => {
            const py = Math.round(ys.getPixelForValue(v));
            ctx.moveTo(ys.right, py);
            ctx.lineTo(ys.right - 13, py);
        });
        ctx.stroke();
        ctx.restore();
    }
};

document.addEventListener('DOMContentLoaded', () => {
    const canvas = document.getElementById('fluxChart');
    new Chart(canvas, {
        type: 'line',
        data: {
            datasets: [{
                label: 'Suspended sediment flux',
                data: points,
                borderColor: '#000',
                borderWidth: 2.9,
                pointRadius: 0,
                tension: 0,
                fill: false
            }]
        },
        options: {
            responsive: false,
            animation: false,
            devicePixelRatio: 1,
            events: [],
            layout: { padding: { top: 47, right: 26, bottom: 0, left: 0 } },
            plugins: {
                legend: { display: false },
                tooltip: { enabled: false }
            },
            scales: {
                x: {
                    type: 'linear',
                    min: 0,
                    max: 19.5,
                    afterBuildTicks: s => { s.ticks = xTickDays.map(v => ({ value: v })); },
                    afterFit: s => {
                        s.height = 209;
                        s.paddingLeft = 0;
                        s.paddingRight = 0;
                    },
                    grid: { display: false, drawTicks: false },
                    border: { display: true, color: '#000', width: 4 },
                    ticks: {
                        autoSkip: false,
                        maxRotation: 0,
                        padding: 32,
                        color: '#000',
                        font: { family: FONT, size: 50 },
                        callback: v => {
                            const i = xTickDays.indexOf(v);
                            return i >= 0 ? xTickLabels[i] : '';
                        }
                    },
                    title: {
                        display: true,
                        text: 'Time',
                        color: '#000',
                        font: { family: FONT, size: 60 },
                        padding: { top: 0, bottom: 21 }
                    }
                },
                y: {
                    type: 'linear',
                    min: -2.5,
                    max: 27.5,
                    afterBuildTicks: s => { s.ticks = yTicks.map(v => ({ value: v })); },
                    afterFit: s => {
                        s.width = 261;
                        s.paddingTop = 0;
                        s.paddingBottom = 0;
                    },
                    grid: { display: false, drawTicks: false },
                    border: { display: true, color: '#000', width: 4 },
                    ticks: {
                        padding: 43,
                        color: '#000',
                        font: { family: FONT, size: 48 }
                    },
                    title: {
                        display: true,
                        text: 'Suspended sediment flux(NTU×m/s)',
                        color: '#000',
                        font: { family: FONT, size: 62 },
                        padding: { top: 33, bottom: 0 }
                    }
                }
            }
        },
        plugins: [tickMarks]
    });
});
</script>
</body>
</html>
